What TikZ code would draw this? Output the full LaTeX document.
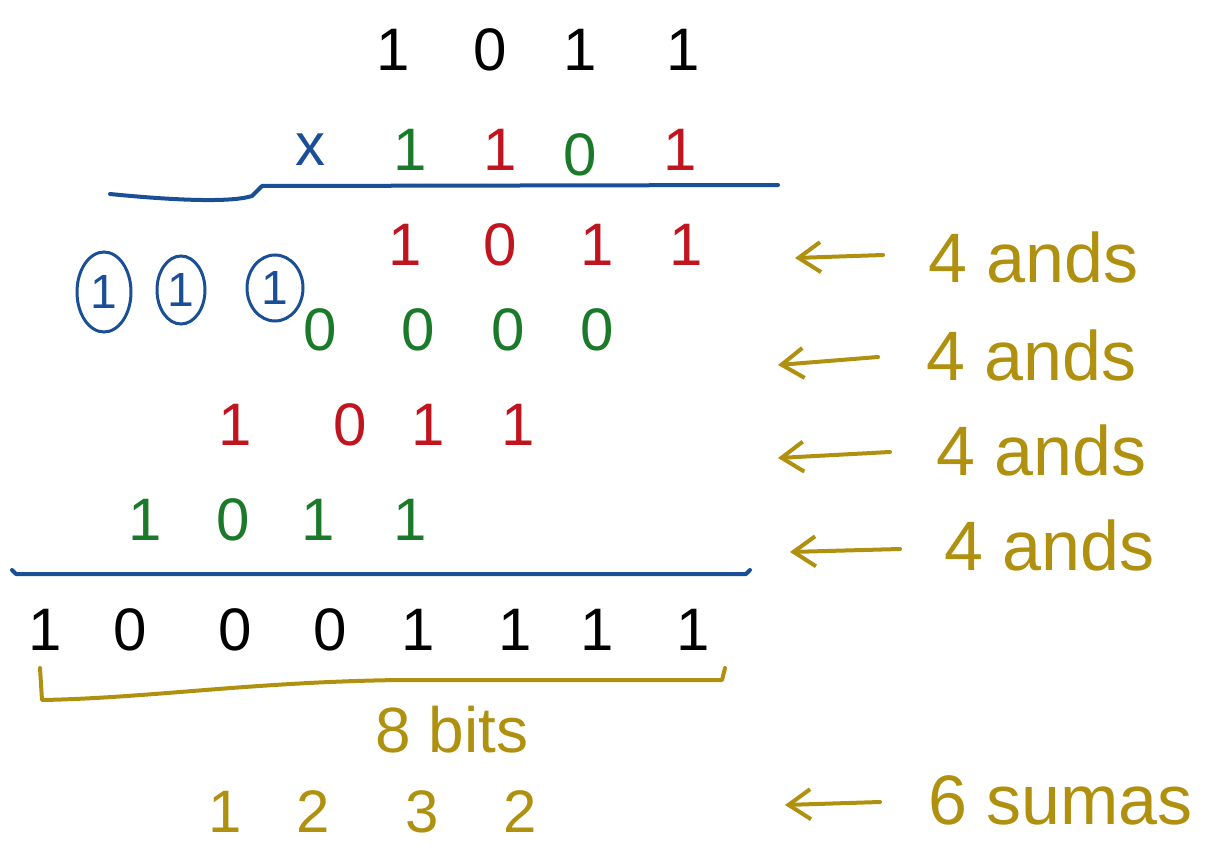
\documentclass[tikz,border=0pt]{standalone}
\usepackage{fontspec}
\setmainfont{Liberation Sans}
\usetikzlibrary{arrows.meta,shapes.geometric}
\definecolor{inkblue}{HTML}{1A4E96}
\definecolor{inkred}{HTML}{C0141E}
\definecolor{inkgreen}{HTML}{1B7A2A}
\definecolor{inkgold}{HTML}{B0900F}
\tikzset{
 dig/.style={font=\fontsize{60}{64}\selectfont, inner sep=0pt, anchor=center},
 note/.style={font=\fontsize{70}{74}\selectfont, text=inkgold, inner sep=0pt, anchor=west},
 ruleline/.style={draw=inkblue, line width=4pt, line cap=round, line join=round},
 goldline/.style={draw=inkgold, line width=4pt, line cap=round, line join=round},
 larrow/.style={draw=inkgold, line width=4pt, line cap=round, -{Straight Barb[length=22pt,width=30pt,line width=4pt]}},
 circ/.style={ellipse, draw=inkblue, line width=3pt, text=inkblue, inner sep=0pt, font=\fontsize{48}{52}\selectfont}
}
\begin{document}
\begin{tikzpicture}[x=1pt,y=-1pt]
\useasboundingbox (0,0) rectangle (1221,848);
% row 1: multiplicand
\foreach \x/\d [count=\i] in {393/1,490/0,580/1,683/1}
  \node[dig, text=black] (a\i) at (\x,50) {\d};
% row 2: multiplier
\node[dig, text=inkblue] (times) at (310,150) {x};
\node[dig, text=inkgreen] (b1) at (410,150) {1};
\node[dig, text=inkred]   (b2) at (500,150) {1};
\node[dig, text=inkgreen] (b3) at (580,155) {0};
\node[dig, text=inkred]   (b4) at (680,150) {1};
% top rule
\coordinate (t0) at (110,194);
\coordinate (t1) at (262,186);
\coordinate (t2) at (778,185);
\draw[ruleline] (t0) .. controls (170,200) and (230,203) .. (252,196) -- (t1) -- (t2);
% partial products
\foreach \x/\d [count=\i] in {405/1,500/0,597/1,686/1}
  \node[dig, text=inkred] (p\i) at (\x,245) {\d};
\foreach \x/\d [count=\i] in {320/0,418/0,508/0,597/0}
  \node[dig, text=inkgreen] (q\i) at (\x,330) {\d};
\foreach \x/\d [count=\i] in {235/1,350/0,428/1,518/1}
  \node[dig, text=inkred] (r\i) at (\x,425) {\d};
\foreach \x/\d [count=\i] in {145/1,233/0,318/1,410/1}
  \node[dig, text=inkgreen] (s\i) at (\x,520) {\d};
% carries
\node[circ, minimum width=54pt, minimum height=80pt] (c1) at (104,292) {1};
\node[circ, minimum width=48pt, minimum height=68pt] (c2) at (181,290) {1};
\node[circ, minimum width=56pt, minimum height=66pt] (c3) at (275,288) {1};
% bottom rule
\coordinate (u0) at (12,570);
\coordinate (u1) at (750,570);
\draw[ruleline] (u0) -- (16,574) -- (746,574) -- (u1);
% result
\foreach \x/\d [count=\i] in {45/1,130/0,235/0,330/0,418/1,515/1,597/1,693/1}
  \node[dig, text=black] (res\i) at (\x,630) {\d};
% gold bracket
\coordinate (g0) at (40,668);
\coordinate (g1) at (725,668);
\draw[goldline] (g0) -- (42,700) .. controls (150,698) and (250,682) .. (400,680) -- (722,680) -- (g1);
\node[dig, text=inkgold, font=\fontsize{64}{68}\selectfont] (bits) at (452,730) {8 bits};
% sums
\foreach \x/\d [count=\i] in {225/1,313/2,422/3,520/2}
  \node[dig, text=inkgold] (sum\i) at (\x,812) {\d};
% notes
\node[note] (n1) at (928,257) {4 ands};
\node[note] (n2) at (926,355) {4 ands};
\node[note] (n3) at (936,450) {4 ands};
\node[note] (n4) at (944,545) {4 ands};
\node[note] (n5) at (928,800) {6 sumas};
\coordinate (e1) at (795,258);
\coordinate (e2) at (778,365);
\coordinate (e3) at (778,458);
\coordinate (e4) at (790,552);
\coordinate (e5) at (785,805);
\draw[larrow] (n1.west) ++(-45,-2) -- (e1);
\draw[larrow] (n2.west) ++(-48,2) -- (e2);
\draw[larrow] (n3.west) ++(-46,2) -- (e3);
\draw[larrow] (n4.west) ++(-44,4) -- (e4);
\draw[larrow] (n5.west) ++(-48,2) -- (e5);
\end{tikzpicture}
\end{document}
